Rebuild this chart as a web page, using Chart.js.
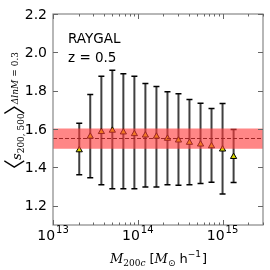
<!DOCTYPE html>
<html><head><meta charset="utf-8">
<script src="https://cdn.jsdelivr.net/npm/chart.js@4/dist/chart.umd.min.js"></script>
<style>html,body{margin:0;padding:0;background:#fff}#wrap{width:270px;height:270px}</style>
</head><body><div id="wrap"><canvas id="c" width="270" height="270"></canvas></div>
<script>
const massBins = [2.04e13, 2.75e13, 3.72e13, 5.01e13, 6.76e13, 9.12e13, 1.23e14, 1.66e14, 2.24e14, 3.02e14, 4.07e14, 5.50e14, 7.41e14, 1.0e15, 1.35e15];
const meanS = [1.491, 1.562, 1.586, 1.593, 1.584, 1.575, 1.568, 1.562, 1.551, 1.542, 1.530, 1.521, 1.512, 1.495, 1.456];
const errHi = [1.630, 1.780, 1.875, 1.907, 1.889, 1.875, 1.838, 1.822, 1.795, 1.784, 1.754, 1.735, 1.707, 1.733, 1.598];
const errLo = [1.362, 1.346, 1.310, 1.289, 1.289, 1.289, 1.298, 1.298, 1.310, 1.307, 1.310, 1.316, 1.323, 1.262, 1.321];
const bandLo = 1.498, bandHi = 1.603, bandMid = 1.551;
const xRange = [1e13, 3e15];
const yRange = [1.1, 2.2];
const yTicks = [1.2, 1.4, 1.6, 1.8, 2.0, 2.2];
const xTickExps = [13, 14, 15];
const annot = ['RAYGAL', 'z = 0.5'];

const FONT = '"DejaVu Sans", sans-serif';
const SERIF = '"DejaVu Serif", serif';
const CJK = '"Noto Sans CJK SC", sans-serif';

const overlay = {
  id: 'overlay',
  beforeDatasetDraw(chart, args) {
    if (args.index !== 3) return;
    const ctx = chart.ctx, xs = chart.scales.x, ys = chart.scales.y;
    ctx.save();
    for (let i = 0; i < massBins.length; i++) {
      const px = xs.getPixelForValue(massBins[i]);
      const pt = ys.getPixelForValue(errHi[i]);
      const pb = ys.getPixelForValue(errLo[i]);
      ctx.strokeStyle = 'rgba(30,30,30,0.85)';
      ctx.lineWidth = 2;
      ctx.beginPath(); ctx.moveTo(px, pt); ctx.lineTo(px, pb); ctx.stroke();
      ctx.strokeStyle = '#000'; ctx.lineWidth = 1.5;
      ctx.beginPath();
      ctx.moveTo(px - 3, pt); ctx.lineTo(px + 3, pt);
      ctx.moveTo(px - 3, pb); ctx.lineTo(px + 3, pb);
      ctx.stroke();
    }
    ctx.restore();
  },
  afterDraw(chart) {
    const ctx = chart.ctx, xs = chart.scales.x, ys = chart.scales.y, a = chart.chartArea;
    ctx.save();
    ctx.strokeStyle = '#888'; ctx.lineWidth = 1.2;
    ctx.strokeRect(a.left, a.top, a.right - a.left, a.bottom - a.top);
    ctx.strokeStyle = '#666'; ctx.lineWidth = 1;
    ctx.beginPath();
    for (const e of xTickExps) {
      const px = Math.round(xs.getPixelForValue(Math.pow(10, e))) + 0.5;
      ctx.moveTo(px, a.bottom); ctx.lineTo(px, a.bottom - 5);
      ctx.moveTo(px, a.top); ctx.lineTo(px, a.top + 5);
    }
    for (let e = 13; e <= 15; e++) {
      for (let m = 2; m <= 9; m++) {
        const v = m * Math.pow(10, e);
        if (v > xRange[1]) break;
        const px = Math.round(xs.getPixelForValue(v)) + 0.5;
        ctx.moveTo(px, a.bottom); ctx.lineTo(px, a.bottom - 2.5);
        ctx.moveTo(px, a.top); ctx.lineTo(px, a.top + 2.5);
      }
    }
    for (const t of yTicks) {
      const py = Math.round(ys.getPixelForValue(t)) + 0.5;
      ctx.moveTo(a.left, py); ctx.lineTo(a.left + 5, py);
      ctx.moveTo(a.right, py); ctx.lineTo(a.right - 5, py);
    }
    ctx.stroke();
    ctx.fillStyle = '#000';
    ctx.font = '14px ' + FONT;
    ctx.textAlign = 'right'; ctx.textBaseline = 'middle';
    for (const t of yTicks) {
      ctx.fillText(t.toFixed(1), a.left - 6, ys.getPixelForValue(t) + 1);
    }
    ctx.textBaseline = 'alphabetic';
    for (const e of xTickExps) {
      const px = xs.getPixelForValue(Math.pow(10, e));
      ctx.font = '14px ' + FONT;
      const wb = ctx.measureText('10').width;
      ctx.font = '10px ' + FONT;
      const we = ctx.measureText(String(e)).width;
      const x0 = px - (wb + we + 1) / 2;
      ctx.font = '14px ' + FONT; ctx.textAlign = 'left';
      ctx.fillText('10', x0, a.bottom + 15);
      ctx.font = '10px ' + FONT;
      ctx.fillText(String(e), x0 + wb + 1, a.bottom + 8);
    }
    ctx.font = '13.5px ' + FONT; ctx.textAlign = 'left';
    ctx.fillText(annot[0], a.left + 15, a.top + 29);
    ctx.fillText(annot[1], a.left + 15, a.top + 48);
    {
      let x = 110, y = 263;
      ctx.font = 'italic 13px ' + SERIF;
      ctx.fillText('M', x, y); x += ctx.measureText('M').width;
      ctx.font = '9px ' + SERIF;
      ctx.fillText('200', x, y + 3); x += ctx.measureText('200').width;
      ctx.font = 'italic 9px ' + SERIF;
      ctx.fillText('c', x, y + 3); x += ctx.measureText('c').width + 4;
      ctx.font = '13px ' + FONT;
      ctx.fillText('[', x, y); x += ctx.measureText('[').width;
      ctx.font = 'italic 13px ' + SERIF;
      ctx.fillText('M', x, y); x += ctx.measureText('M').width;
      ctx.font = '9px ' + FONT;
      ctx.fillText('\u2299', x, y + 3); x += ctx.measureText('\u2299').width + 4;
      ctx.font = '13px ' + FONT;
      ctx.fillText('h', x, y); x += ctx.measureText('h').width;
      ctx.font = '9px ' + FONT;
      ctx.fillText('\u22121', x, y - 6); x += ctx.measureText('\u22121').width + 1;
      ctx.font = '13px ' + FONT;
      ctx.fillText(']', x, y);
    }
    {
      ctx.save();
      ctx.translate(22, 168);
      ctx.rotate(-Math.PI / 2);
      let x = 0, y = 0;
      ctx.font = '22px ' + CJK;
      ctx.fillText('\u3008', x - 13, y); x += 8;
      ctx.font = 'italic 13px ' + SERIF;
      ctx.fillText('s', x, y - 1); x += ctx.measureText('s').width;
      ctx.font = '9px ' + SERIF;
      ctx.fillText('200, 500', x, y + 2); x += ctx.measureText('200, 500').width + 1;
      ctx.font = '22px ' + CJK;
      ctx.fillText('\u3009', x - 3, y); x += 8;
      ctx.font = 'italic 9px ' + SERIF;
      ctx.fillText('\u0394lnM', x, y - 4); x += ctx.measureText('\u0394lnM').width + 3;
      ctx.font = '9px ' + SERIF;
      ctx.fillText('=', x, y - 4); x += ctx.measureText('=').width + 3;
      ctx.fillText('0.3', x, y - 4);
      ctx.restore();
    }
    ctx.restore();
  }
};

new Chart(document.getElementById('c'), {
  type: 'scatter',
  data: {
    datasets: [
      { type: 'line', data: [{x: xRange[0], y: bandHi}, {x: xRange[1], y: bandHi}], borderWidth: 0, pointRadius: 0, fill: false, borderColor: 'rgba(0,0,0,0)' },
      { type: 'line', data: [{x: xRange[0], y: bandLo}, {x: xRange[1], y: bandLo}], borderWidth: 0, pointRadius: 0, fill: '-1', backgroundColor: 'rgba(255,60,60,0.62)', borderColor: 'rgba(0,0,0,0)' },
      { type: 'line', data: [{x: xRange[0], y: bandMid}, {x: xRange[1], y: bandMid}], borderWidth: 1, borderDash: [4, 2], pointRadius: 0, fill: false, borderColor: '#000' },
      { type: 'scatter', data: massBins.map((m, i) => ({x: m, y: meanS[i]})), pointStyle: 'triangle', pointRadius: 3.6, backgroundColor: '#d8d800', borderColor: '#000', borderWidth: 1 }
    ]
  },
  options: {
    responsive: false, animation: false, devicePixelRatio: 1,
    layout: { padding: { top: 14, right: 7, left: 0, bottom: 0 } },
    plugins: { legend: { display: false }, tooltip: { enabled: false } },
    scales: {
      x: { type: 'logarithmic', min: xRange[0], max: xRange[1],
           grid: { display: false }, border: { display: false },
           ticks: { display: false },
           afterFit: s => { s.height = 45; } },
      y: { min: yRange[0], max: yRange[1],
           grid: { display: false }, border: { display: false },
           ticks: { display: false },
           afterFit: s => { s.width = 53; } }
    }
  },
  plugins: [overlay]
});
</script></body></html>
